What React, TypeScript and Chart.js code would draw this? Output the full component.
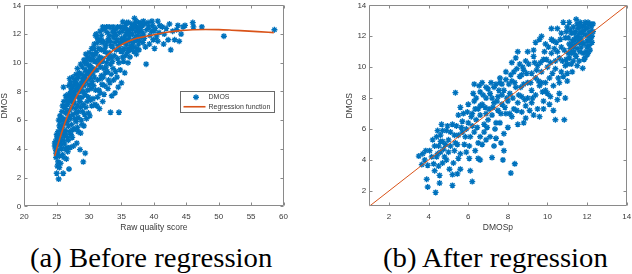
import React, { useEffect, useRef } from "react";
import { Chart, registerables } from "chart.js";

Chart.register(...registerables);

// ---------- data: (a) before regression ----------
const BEFORE_POINTS: [number, number][] = [
  [24.7,4.2],[24.8,4.5],[24.9,3.7],[24.8,4.0],[25.0,4.7],[24.9,3.4],[25.0,2.3],[25.1,2.8],[24.7,4.4],[25.0,5.0],
  [25.3,1.9],[25.2,3.1],[25.4,3.5],[25.3,4.3],[25.2,5.2],[25.4,5.6],[25.3,6.0],[25.1,4.9],[25.5,4.5],[25.5,5.9],[25.2,3.9],[25.4,2.7],[25.5,6.3],
  [25.6,3.0],[25.7,4.0],[25.8,5.0],[25.9,5.6],[25.7,6.2],[25.8,6.6],[26.0,2.3],[25.9,3.6],[26.0,4.6],[25.6,5.4],[25.9,7.0],[26.0,6.0],[26.05,8.3],[25.8,4.3],
  [26.1,3.4],[26.2,4.4],[26.3,5.3],[26.2,5.8],[26.4,6.5],[26.3,7.0],[26.1,7.3],[26.4,7.7],[26.2,4.9],[26.5,6.0],[26.4,5.1],[26.5,3.3],[26.3,6.8],[26.5,7.4],
  [26.6,4.1],[26.7,4.8],[26.8,5.6],[26.9,6.3],[26.7,7.1],[26.8,7.8],[26.9,8.4],[27.0,8.9],[26.9,2.6],[26.6,5.9],[27.0,6.7],[26.7,3.8],[26.8,4.6],[27.0,7.4],
  [27.1,4.1],[27.2,5.0],[27.3,5.7],[27.1,6.1],[27.4,6.9],[27.2,7.6],[27.3,8.2],[27.5,9.0],[27.4,4.8],[27.1,8.6],[27.5,6.4],[27.3,7.3],[27.4,5.3],
  [27.6,4.2],[27.7,5.4],[27.8,6.1],[27.9,6.8],[27.6,7.5],[27.8,8.0],[27.9,8.7],[28.0,9.2],[27.7,7.2],[28.0,5.9],[27.9,7.7],[27.6,8.4],[28.0,6.5],
  [28.1,4.4],[28.2,5.5],[28.3,6.2],[28.2,7.0],[28.4,7.6],[28.3,8.3],[28.1,8.9],[28.5,9.3],[28.4,6.6],[28.5,8.0],[28.2,9.6],[28.3,5.2],[28.5,7.3],
  [28.6,3.95],[28.7,5.1],[28.8,6.0],[28.7,6.9],[28.9,7.6],[28.6,8.1],[28.8,8.6],[28.9,9.2],[29.0,9.7],[28.7,9.9],[28.9,5.7],[29.0,6.6],[28.6,7.3],
  [29.1,3.1],[29.4,3.7],[29.2,5.6],[29.3,6.4],[29.1,7.1],[29.4,7.8],[29.2,8.4],[29.3,9.0],[29.4,9.5],[29.2,10.2],[29.5,10.6],[29.1,8.0],[29.5,6.9],[29.3,8.7],
  [29.6,6.1],[29.7,7.3],[29.8,8.1],[29.6,8.8],[29.9,9.4],[29.7,9.9],[29.8,10.4],[30.0,10.7],[29.9,7.6],[30.0,8.5],[29.6,9.2],[29.9,6.5],
  [30.1,6.3],[30.2,7.4],[30.3,8.2],[30.1,8.9],[30.4,9.4],[30.2,9.8],[30.3,10.2],[30.5,10.6],[30.4,7.0],[30.5,8.7],[30.2,9.1],[30.4,11.0],
  [30.6,7.5],[30.7,8.4],[30.8,9.0],[30.6,9.6],[30.9,10.1],[30.7,10.5],[30.8,11.0],[31.0,11.9],[30.9,7.1],[31.0,8.1],[30.6,9.3],[30.8,11.3],
  [31.1,12.0],[31.2,11.8],[31.3,11.4],[31.1,10.7],[31.4,10.2],[31.2,9.5],[31.3,8.8],[31.5,8.1],[31.2,7.0],[31.6,6.8],[31.4,9.9],[31.5,11.0],[31.3,7.6],
  [31.7,12.2],[31.8,11.6],[31.9,10.9],[31.6,10.4],[31.8,9.7],[31.9,9.1],[32.0,8.5],[31.7,7.9],[32.0,10.1],[31.8,8.9],[32.0,11.4],
  [32.1,12.5],[32.3,12.3],[32.2,11.5],[32.4,10.8],[32.1,10.3],[32.3,9.6],[32.2,9.0],[32.4,8.4],[32.3,7.8],[32.5,9.3],[32.5,11.1],[32.1,7.3],
  [32.7,12.5],[32.8,12.1],[32.6,11.3],[32.9,10.6],[32.7,10.0],[32.8,9.4],[33.0,8.8],[32.9,8.2],[33.0,10.3],[32.6,9.7],[33.0,11.7],
  [33.1,12.5],[33.3,6.55],[33.2,11.9],[33.4,11.2],[33.1,10.7],[33.3,9.9],[33.4,9.2],[33.2,8.6],[33.5,7.7],[33.5,10.4],[33.3,11.5],
  [33.7,12.5],[33.8,11.8],[33.6,11.1],[33.9,10.5],[33.7,9.6],[34.0,7.9],[33.8,8.8],[34.0,11.4],[33.9,12.1],[33.6,10.1],
  [34.1,12.3],[34.3,11.6],[34.2,10.9],[34.4,10.3],[34.1,9.4],[34.5,8.3],[34.6,6.55],[34.3,9.0],[34.5,11.2],[34.2,11.9],
  [34.7,12.1],[34.8,11.4],[34.9,10.8],[34.6,10.0],[35.0,8.6],[34.8,9.5],[35.0,11.7],[34.9,12.5],
  [35.2,12.85],[35.1,12.2],[35.3,11.5],[35.4,11.0],[35.2,10.4],[35.5,9.3],[35.3,10.1],[35.5,11.8],[35.1,10.8],[35.4,12.4],
  [35.6,12.6],[35.7,12.0],[35.8,11.3],[35.9,10.7],[36.0,10.0],[35.7,11.6],[35.9,12.3],[36.0,11.0],[35.6,10.5],
  [36.1,12.8],[36.2,12.1],[36.3,11.5],[36.4,10.9],[36.2,11.8],[36.5,12.4],[36.3,10.4],[36.5,11.2],
  [36.6,12.7],[36.7,12.0],[36.8,11.4],[36.9,10.8],[37.0,13.1],[36.7,12.4],[37.0,11.7],[36.9,11.1],
  [37.1,12.6],[37.2,12.2],[37.3,11.6],[37.4,11.0],[37.2,12.9],[37.5,12.4],[37.4,11.9],[37.3,10.6],
  [37.6,12.8],[37.7,12.1],[37.8,11.5],[38.0,12.8],[37.9,12.5],[37.7,10.9],[38.0,11.8],[37.6,11.3],
  [38.2,12.6],[38.4,12.0],[38.3,11.4],[38.6,12.7],[38.8,9.9],[38.5,11.7],[38.9,12.3],[38.7,11.1],[38.1,12.2],
  [39.2,12.5],[39.4,11.9],[39.7,12.9],[39.6,12.2],[39.9,11.6],[39.3,11.3],[39.8,12.6],
  [40.2,12.4],[40.6,12.9],[40.4,11.8],[40.8,12.1],[40.9,12.6],[40.1,11.0],[40.6,11.5],
  [41.3,12.5],[41.6,12.0],[41.9,12.4],[42.2,11.6],[42.6,10.9],[42.4,12.7],[42.9,12.2],[41.5,11.3],
  [43.2,11.6],[43.5,12.3],[43.9,11.5],[44.2,12.0],[44.5,12.5],[44.8,12.6],[43.7,12.6],
  [46.0,12.8],[46.1,12.5],[47.4,12.5],[50.8,11.85],[58.6,12.3],
  [25.1,3.6],[25.3,5.0],[25.6,4.7],[25.9,5.2],[26.1,6.1],[26.3,4.0],[26.6,6.6],[26.8,7.3],[27.0,5.2],[27.2,8.0],
  [27.5,7.7],[27.7,8.7],[28.0,8.2],[28.2,8.5],[28.4,9.0],[28.7,8.3],[29.0,8.9],[29.3,10.0],[29.6,10.2],[29.9,9.8],
  [30.1,10.3],[30.3,9.6],[30.6,10.2],[30.9,10.6],[31.4,11.6],[31.9,11.9],[32.4,12.4],[32.9,11.5],[33.6,12.2],[34.4,12.5],
  [35.8,12.8],[36.4,12.3],[37.8,12.4],[38.4,12.9],[39.1,12.8],[40.0,12.2],[36.8,12.6],[35.4,11.4],[34.7,11.0],[36.0,12.1],
];

// regression function sampled along the raw quality score axis
const FIT_RAW = [24.7, 25, 25.5, 26, 26.5, 27, 27.5, 28, 29, 30, 31, 32, 33, 34, 35, 36, 37, 38, 39, 40, 42, 44, 46, 48, 50, 52, 54, 56, 58.5];
const FIT_DMOS = [3.5, 4.0, 4.75, 5.45, 6.1, 6.65, 7.15, 7.6, 8.4, 9.05, 9.65, 10.15, 10.6, 10.95, 11.25, 11.48, 11.65, 11.77, 11.87, 11.95, 12.12, 12.24, 12.3, 12.32, 12.31, 12.27, 12.22, 12.17, 12.1];

// ---------- data: (b) after regression ----------
const AFTER_POINTS: [number, number][] = [
  [3.5,4.25],[3.7,4.4],[3.85,4.6],[3.65,3.7],[3.95,3.65],[4.25,3.75],[3.9,2.75],[3.95,2.25],[4.3,3.3],[4.35,1.9],[4.55,2.5],[4.55,3.0],
  [4.45,4.4],[4.5,4.9],[4.4,5.5],[4.45,5.9],[4.6,5.6],[4.7,5.2],[4.75,4.7],[4.8,4.2],[4.65,6.3],[4.9,5.9],[4.9,4.0],[5.0,4.5],[5.0,5.3],[4.3,4.9],
  [5.2,2.35],[5.2,3.05],[5.25,3.8],[5.3,4.6],[5.35,5.1],[5.35,8.35],[5.4,6.2],[5.5,5.6],[5.6,4.4],[5.6,3.4],[5.7,6.5],[5.8,5.0],[5.6,7.4],[5.9,6.0],
  [5.9,4.5],[5.5,6.9],[5.2,6.3],[5.7,5.8],[5.95,7.1],[5.3,5.6],
  [6.1,3.3],[6.2,2.6],[6.05,4.9],[6.1,5.5],[6.2,6.2],[6.2,7.0],[6.3,7.8],[6.3,8.9],[6.4,6.6],[6.5,5.1],[6.5,4.1],[6.6,4.0],[6.5,7.3],[6.6,8.4],
  [6.7,9.0],[6.7,7.6],[6.8,6.3],[6.8,5.8],[6.9,8.0],[6.9,7.0],[6.7,5.0],[6.4,8.0],[6.3,5.8],[7.0,6.6],[7.0,8.6],[6.6,6.9],
  [7.2,4.15],[7.1,5.5],[7.2,6.9],[7.3,7.7],[7.3,8.7],[7.4,5.4],[7.4,6.4],[7.5,7.2],[7.5,8.1],[7.6,9.0],[7.6,6.4],[7.7,7.6],[7.75,4.0],[7.8,4.6],
  [7.8,5.7],[7.8,8.5],[7.9,9.2],[7.9,7.0],[7.7,8.9],[8.0,6.1],[8.0,7.8],[7.4,8.9],[7.2,8.0],[7.9,9.7],[7.6,9.3],
  [8.15,3.15],[8.35,3.75],[8.1,8.3],[8.2,9.1],[8.3,9.7],[8.4,10.6],[8.3,7.3],[8.4,8.7],[8.5,6.3],[8.5,7.7],[8.6,9.4],[8.6,10.2],[8.7,8.1],[8.7,7.1],
  [8.8,8.9],[8.8,9.8],[8.9,6.7],[8.9,7.5],[8.9,10.4],[9.0,9.0],[9.0,8.0],[8.2,10.3],[8.5,11.0],[9.0,11.0],[8.7,9.5],
  [9.1,7.2],[9.2,8.5],[9.2,9.6],[9.3,10.7],[9.3,11.1],[9.4,8.2],[9.4,9.3],[9.5,7.3],[9.5,10.1],[9.6,6.8],[9.6,8.8],[9.6,11.8],[9.7,12.0],[9.7,9.7],
  [9.8,7.8],[9.8,10.5],[9.9,9.0],[9.9,11.5],[10.0,8.3],[10.0,10.0],[9.4,11.6],[9.7,9.0],[9.2,7.7],
  [10.1,7.6],[10.1,9.3],[10.2,10.9],[10.2,12.5],[10.3,8.8],[10.3,11.7],[10.4,6.6],[10.4,9.9],[10.5,12.5],[10.5,7.9],[10.6,8.3],[10.6,10.6],
  [10.7,11.3],[10.7,12.2],[10.8,9.4],[10.85,6.6],[10.9,8.0],[10.9,10.1],[10.9,11.9],[11.0,12.6],[11.0,9.1],[10.5,11.0],[10.7,9.7],[10.8,12.9],
  [10.2,11.8],[10.4,10.4],[11.0,9.6],
  [11.1,10.6],[11.1,11.5],[11.2,12.2],[11.2,10.2],[11.3,11.0],[11.3,12.6],[11.35,11.8],[11.4,10.8],[11.45,13.1],[11.5,12.0],[11.5,11.2],
  [11.55,12.5],[11.6,11.6],[11.6,10.4],[11.65,12.9],[11.7,11.9],[11.7,11.3],[11.75,12.3],[11.78,9.93],[11.8,10.9],[11.8,12.7],[11.85,11.5],
  [11.9,12.1],[11.9,12.9],[11.95,11.0],[12.0,12.5],[12.0,11.7],[12.05,10.9],[12.1,12.2],[12.1,11.4],[12.15,12.8],[12.2,11.9],[12.2,12.6],
  [12.25,11.6],[12.3,12.3],[11.2,11.4],[11.4,12.3],[11.6,12.2],[11.3,10.4],[11.9,10.6],[11.5,10.1],[11.05,11.9],[12.0,10.8],[11.7,12.6],
  [11.1,12.9],[11.25,9.7],[11.45,10.7],[11.0,10.2],[12.15,11.1],
  [4.4,4.2],[4.6,4.5],[4.7,5.9],[4.85,5.0],[4.95,6.2],[4.2,5.3],[4.6,5.2],[5.1,4.9],[5.1,5.8],[5.45,5.0],[5.5,4.1],[5.65,6.1],[5.75,7.0],
  [5.85,5.5],[6.0,6.4],[6.0,7.6],[6.15,6.8],[6.25,8.3],[6.35,7.3],[6.45,6.1],[6.55,8.8],[6.6,7.5],[6.75,8.2],[6.85,7.4],[6.95,6.1],[6.9,8.7],
  [7.05,7.3],[7.1,8.3],[7.15,9.0],[7.25,7.4],[7.35,6.0],[7.45,7.8],[7.55,8.5],[7.65,7.0],[7.7,8.2],[7.85,7.4],[7.95,8.0],[8.05,8.9],[8.1,7.0],
  [8.15,9.5],[8.25,8.0],[8.35,9.0],[8.45,9.9],[8.55,8.2],[8.65,8.7],[8.75,10.0],[8.85,7.9],[8.95,9.6],[9.05,10.2],[9.15,9.0],[9.25,8.0],
  [9.35,10.3],[9.45,9.8],[9.55,9.1],[9.65,10.3],[9.75,8.4],[9.85,11.0],[9.95,10.5],[10.05,11.3],[10.15,10.3],[10.25,9.6],[10.35,11.2],
  [10.45,11.6],[10.55,9.3],[10.65,11.8],[10.75,10.4],[10.85,11.1],[10.95,12.3],[11.05,10.9],[11.15,12.4],[11.25,11.7],[11.35,12.2],
  [11.4,11.5],[11.5,12.8],[11.55,11.8],[11.65,11.0],[11.7,12.2],[11.75,11.6],[11.85,12.4],[11.85,10.5],[11.95,12.6],[12.05,12.0],
  [12.05,12.9],[12.1,11.7],[12.2,12.3],[12.25,12.0],[11.3,11.3],[11.45,11.9],[11.6,12.7],[11.2,10.9],[11.15,11.2],[10.95,10.5],
  [12.3,12.8],[12.0,11.3],[9.8,7.3],[10.3,7.2],[9.3,6.9],[10.6,9.0],[10.15,8.1],[9.9,8.5],[4.15,4.2],[3.8,4.0],[4.05,4.6],[4.5,3.6],
  [4.7,3.8],[5.05,3.4],[5.45,3.1],[6.05,4.1],[6.35,4.6],[6.6,5.5],[6.9,5.3],[7.3,4.9],[7.65,5.1],[8.2,6.8],[8.45,7.2],[8.8,6.4],
];

// identity line of the after-regression plot
const DIAG_X = [1, 14];
const DIAG_Y = [1, 14];

// tick labels
const X_TICKS_A = [20, 25, 30, 35, 40, 45, 50, 55, 60];
const Y_TICKS_A = [0, 2, 4, 6, 8, 10, 12, 14];
const X_TICKS_B = [2, 4, 6, 8, 10, 12, 14];
const Y_TICKS_B = [2, 4, 6, 8, 10, 12, 14];

const LEGEND_LABELS = ["DMOS", "Regression function"];

// ---------- styles ----------
const BLUE = "#0072BD";
const ORANGE = "#D95319";
const FRAME = "#8a8a8a";
const TEXT = "#3a3a3a";
const SANS = "'Liberation Sans', Arial, Helvetica, sans-serif";
const SERIF = "'Liberation Serif', Tinos, 'Times New Roman', Times, 'DejaVu Serif', serif";

function drawStar(ctx: CanvasRenderingContext2D, x: number, y: number, r: number) {
  ctx.beginPath();
  ctx.moveTo(x - r, y);
  ctx.lineTo(x + r, y);
  ctx.moveTo(x, y - r);
  ctx.lineTo(x, y + r);
  const d = r * Math.SQRT1_2;
  ctx.moveTo(x - d, y - d);
  ctx.lineTo(x + d, y + d);
  ctx.moveTo(x - d, y + d);
  ctx.lineTo(x + d, y - d);
  ctx.stroke();
}

const framePlugin = {
  id: "matlabFrame",
  afterDraw(chart: any) {
    const { ctx, chartArea: a, scales } = chart;
    const L = Math.round(a.left) + 0.5;
    const R = Math.round(a.right) - 0.5;
    const T = Math.round(a.top) + 0.5;
    const B = Math.round(a.bottom) - 0.5;
    const tl = 3;
    ctx.save();
    ctx.strokeStyle = FRAME;
    ctx.lineWidth = 1;
    ctx.beginPath();
    ctx.rect(L, T, R - L, B - T);
    for (const t of scales.x.ticks) {
      const px = Math.round(scales.x.getPixelForValue(t.value)) + 0.5;
      ctx.moveTo(px, B);
      ctx.lineTo(px, B - tl);
      ctx.moveTo(px, T);
      ctx.lineTo(px, T + tl);
    }
    for (const t of scales.y.ticks) {
      const py = Math.round(scales.y.getPixelForValue(t.value)) + 0.5;
      ctx.moveTo(L, py);
      ctx.lineTo(L + tl, py);
      ctx.moveTo(R, py);
      ctx.lineTo(R - tl, py);
    }
    ctx.stroke();

    const leg = chart.options.plugins.matlabFrame;
    if (leg && leg.show) {
      const x0 = Math.round(scales.x.getPixelForValue(leg.x0)) + 0.5;
      const x1 = Math.round(scales.x.getPixelForValue(leg.x1)) + 0.5;
      const y0 = Math.round(scales.y.getPixelForValue(leg.y0)) + 0.5;
      const y1 = Math.round(scales.y.getPixelForValue(leg.y1)) + 0.5;
      ctx.fillStyle = "#ffffff";
      ctx.fillRect(x0, y0, x1 - x0, y1 - y0);
      ctx.strokeStyle = "#6a6a6a";
      ctx.strokeRect(x0, y0, x1 - x0, y1 - y0);
      const rowH = (y1 - y0) / 2;
      const r1 = y0 + rowH * 0.5 + 0.5;
      const r2 = y0 + rowH * 1.5 - 0.5;
      ctx.strokeStyle = BLUE;
      ctx.lineWidth = 1.3;
      drawStar(ctx, x0 + 15.5, r1, 3);
      ctx.strokeStyle = ORANGE;
      ctx.lineWidth = 1.6;
      ctx.beginPath();
      ctx.moveTo(x0 + 3, r2);
      ctx.lineTo(x0 + 25, r2);
      ctx.stroke();
      ctx.fillStyle = TEXT;
      ctx.font = `7px ${SANS}`;
      ctx.textBaseline = "middle";
      ctx.textAlign = "left";
      ctx.fillText(LEGEND_LABELS[0], x0 + 28, r1);
      ctx.fillText(LEGEND_LABELS[1], x0 + 28, r2);
    }
    ctx.restore();
  },
};

function makeScale(min: number, max: number, ticks: number[], title: string, horizontal: boolean, size: number) {
  return {
    type: "linear",
    min,
    max,
    afterBuildTicks: (s: any) => {
      s.ticks = ticks.map((v) => ({ value: v }));
    },
    afterFit: (s: any) => {
      if (horizontal) {
        s.height = size;
        s.paddingLeft = 0;
        s.paddingRight = 0;
      } else {
        s.width = size;
        s.paddingTop = 0;
        s.paddingBottom = 0;
      }
    },
    grid: { display: false, drawTicks: false },
    border: { display: false },
    ticks: {
      color: TEXT,
      font: { family: SANS, size: 8 },
      padding: horizontal ? 6 : 3,
      maxRotation: 0,
      minRotation: 0,
      autoSkip: false,
      callback: (v: any) => String(v),
    },
    title: {
      display: true,
      text: title,
      color: TEXT,
      font: { family: SANS, size: 8.5 },
      padding: horizontal ? { top: 0, bottom: 3 } : { top: 0, bottom: 0 },
    },
  };
}

function ScatterChart(props: { width: number; height: number; config: any }) {
  const ref = useRef<HTMLCanvasElement>(null);
  useEffect(() => {
    const chart = new Chart(ref.current as HTMLCanvasElement, props.config);
    return () => chart.destroy();
  }, []);
  return (
    <canvas
      ref={ref}
      width={props.width}
      height={props.height}
      style={{ width: props.width, height: props.height, display: "block" }}
    />
  );
}

const pointStyleOpts = {
  pointStyle: "star",
  pointRadius: 3,
  borderColor: BLUE,
  backgroundColor: BLUE,
  pointBorderWidth: 1.35,
};

const configA = {
  type: "scatter",
  data: {
    datasets: [
      {
        label: "Regression function",
        data: FIT_RAW.map((x, i) => ({ x, y: FIT_DMOS[i] })),
        showLine: true,
        borderColor: ORANGE,
        borderWidth: 1.6,
        pointRadius: 0,
        cubicInterpolationMode: "monotone",
        order: 0,
      },
      {
        label: "DMOS",
        data: BEFORE_POINTS.map(([x, y]) => ({ x, y })),
        ...pointStyleOpts,
        order: 1,
      },
    ],
  },
  options: {
    responsive: false,
    animation: false,
    events: [],
    layout: { padding: { left: 0, top: 2, right: 16.5, bottom: 0 } },
    plugins: {
      legend: { display: false },
      tooltip: { enabled: false },
      matlabFrame: { show: true, x0: 44, x1: 58.6, y0: 8.05, y1: 6.55 },
    },
    scales: {
      x: makeScale(20, 60, X_TICKS_A, "Raw quality score", true, 29.7),
      y: makeScale(0, 14, Y_TICKS_A, "DMOS", false, 24.3),
    },
  },
  plugins: [framePlugin],
};

const configB = {
  type: "scatter",
  data: {
    datasets: [
      {
        label: "y = x",
        data: DIAG_X.map((x, i) => ({ x, y: DIAG_Y[i] })),
        showLine: true,
        borderColor: ORANGE,
        borderWidth: 1,
        pointRadius: 0,
        order: 0,
      },
      {
        label: "DMOS",
        data: AFTER_POINTS.map(([x, y]) => ({ x, y })),
        ...pointStyleOpts,
        order: 1,
      },
    ],
  },
  options: {
    responsive: false,
    animation: false,
    events: [],
    layout: { padding: { left: 28.8, top: 2, right: 2.7, bottom: 0 } },
    plugins: {
      legend: { display: false },
      tooltip: { enabled: false },
      matlabFrame: { show: false },
    },
    scales: {
      x: makeScale(1, 14, X_TICKS_B, "DMOSp", true, 29.7),
      y: makeScale(1, 14, Y_TICKS_B, "DMOS", false, 24.5),
    },
  },
  plugins: [framePlugin],
};

const captionStyle: React.CSSProperties = {
  position: "absolute",
  top: 243.6,
  fontFamily: SERIF,
  fontSize: 28,
  lineHeight: "28px",
  color: "#000",
  whiteSpace: "nowrap",
  transform: "scaleX(1.025)",
  transformOrigin: "left top",
};

export default function App() {
  return (
    <div
      style={{
        position: "fixed",
        left: 0,
        top: 0,
        width: 632,
        height: 274,
        background: "#fff",
        overflow: "hidden",
      }}
    >
      <div style={{ position: "absolute", left: 0, top: 0 }}>
        <ScatterChart width={300} height={236} config={configA} />
      </div>
      <div style={{ position: "absolute", left: 316, top: 0 }}>
        <ScatterChart width={316} height={236} config={configB} />
      </div>
      <div style={{ ...captionStyle, left: 30 }}>(a) Before regression</div>
      <div style={{ ...captionStyle, left: 382.7 }}>(b) After regression</div>
    </div>
  );
}
